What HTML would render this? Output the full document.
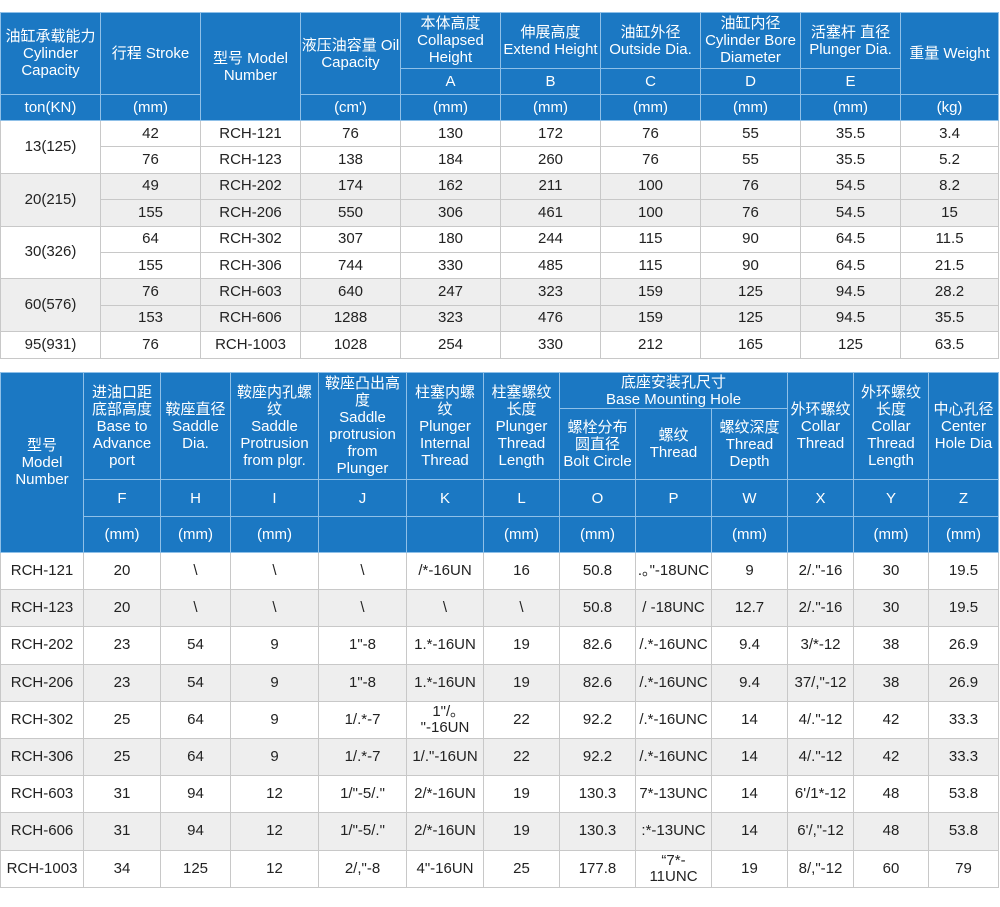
<!DOCTYPE html>
<html><head><meta charset="utf-8"><style>
body{margin:0;background:#fff;width:1000px;height:907px;position:relative;overflow:hidden;font-family:"Liberation Sans","Noto Sans CJK SC",sans-serif;}
table{position:absolute;left:0;border-collapse:collapse;table-layout:fixed;width:998px;}
td{text-align:center;vertical-align:middle;padding:0;font-size:15px;color:#222;border:1px solid #c8c8c8;line-height:16px;overflow:hidden;}
td.h{background:#1b78c3;color:#fff;border:1px solid #8fc0e8;font-size:15px;line-height:17px;}
tr.g td{background:#eeeeee;}
</style></head><body>
<table style="top:12px">
<colgroup><col style="width:100px"><col style="width:100px"><col style="width:100px"><col style="width:100px"><col style="width:100px"><col style="width:100px"><col style="width:100px"><col style="width:100px"><col style="width:100px"><col style="width:98px"></colgroup>
<tr style="height:56px"><td class="h" rowspan="2">油缸承载能力<br>Cylinder<br>Capacity</td><td class="h" rowspan="2">行程 Stroke</td><td class="h" rowspan="3">型号 Model<br>Number</td><td class="h" rowspan="2">液压油容量 Oil<br>Capacity</td><td class="h">本体高度<br>Collapsed<br>Height</td><td class="h">伸展高度<br>Extend Height</td><td class="h">油缸外径<br>Outside Dia.</td><td class="h">油缸内径<br>Cylinder Bore<br>Diameter</td><td class="h">活塞杆 直径<br>Plunger Dia.</td><td class="h" rowspan="2">重量 Weight</td></tr>
<tr style="height:26px"><td class="h">A</td><td class="h">B</td><td class="h">C</td><td class="h">D</td><td class="h">E</td></tr>
<tr style="height:26px"><td class="h">ton(KN)</td><td class="h">(mm)</td><td class="h">(cm')</td><td class="h">(mm)</td><td class="h">(mm)</td><td class="h">(mm)</td><td class="h">(mm)</td><td class="h">(mm)</td><td class="h">(kg)</td></tr>
<tr style="height:26.4px"><td rowspan="2">13(125)</td><td>42</td><td>RCH-121</td><td>76</td><td>130</td><td>172</td><td>76</td><td>55</td><td>35.5</td><td>3.4</td></tr>
<tr style="height:26.4px"><td>76</td><td>RCH-123</td><td>138</td><td>184</td><td>260</td><td>76</td><td>55</td><td>35.5</td><td>5.2</td></tr>
<tr class="g" style="height:26.4px"><td rowspan="2">20(215)</td><td>49</td><td>RCH-202</td><td>174</td><td>162</td><td>211</td><td>100</td><td>76</td><td>54.5</td><td>8.2</td></tr>
<tr class="g" style="height:26.4px"><td>155</td><td>RCH-206</td><td>550</td><td>306</td><td>461</td><td>100</td><td>76</td><td>54.5</td><td>15</td></tr>
<tr style="height:26.4px"><td rowspan="2">30(326)</td><td>64</td><td>RCH-302</td><td>307</td><td>180</td><td>244</td><td>115</td><td>90</td><td>64.5</td><td>11.5</td></tr>
<tr style="height:26.4px"><td>155</td><td>RCH-306</td><td>744</td><td>330</td><td>485</td><td>115</td><td>90</td><td>64.5</td><td>21.5</td></tr>
<tr class="g" style="height:26.4px"><td rowspan="2">60(576)</td><td>76</td><td>RCH-603</td><td>640</td><td>247</td><td>323</td><td>159</td><td>125</td><td>94.5</td><td>28.2</td></tr>
<tr class="g" style="height:26.4px"><td>153</td><td>RCH-606</td><td>1288</td><td>323</td><td>476</td><td>159</td><td>125</td><td>94.5</td><td>35.5</td></tr>
<tr style="height:26.4px"><td>95(931)</td><td>76</td><td>RCH-1003</td><td>1028</td><td>254</td><td>330</td><td>212</td><td>165</td><td>125</td><td>63.5</td></tr>
</table>

<table style="top:372px">
<colgroup><col style="width:83px"><col style="width:77px"><col style="width:70px"><col style="width:88px"><col style="width:88px"><col style="width:77px"><col style="width:76px"><col style="width:76px"><col style="width:76px"><col style="width:76px"><col style="width:66px"><col style="width:75px"><col style="width:70px"></colgroup>
<tr style="height:36px"><td class="h" rowspan="4">型号<br>Model<br>Number</td><td class="h" rowspan="2">进油口距<br>底部高度<br>Base to<br>Advance<br>port</td><td class="h" rowspan="2">鞍座直径<br>Saddle<br>Dia.</td><td class="h" rowspan="2">鞍座内孔螺<br>纹<br>Saddle<br>Protrusion<br>from plgr.</td><td class="h" rowspan="2">鞍座凸出高<br>度<br>Saddle<br>protrusion<br>from<br>Plunger</td><td class="h" rowspan="2">柱塞内螺<br>纹<br>Plunger<br>Internal<br>Thread</td><td class="h" rowspan="2">柱塞螺纹<br>长度<br>Plunger<br>Thread<br>Length</td><td class="h" colspan="3">底座安装孔尺寸<br>Base Mounting Hole</td><td class="h" rowspan="2">外环螺纹<br>Collar<br>Thread</td><td class="h" rowspan="2">外环螺纹<br>长度<br>Collar<br>Thread<br>Length</td><td class="h" rowspan="2">中心孔径<br>Center<br>Hole Dia</td></tr>
<tr style="height:71px"><td class="h">螺栓分布<br>圆直径<br>Bolt Circle</td><td class="h">螺纹<br>Thread</td><td class="h">螺纹深度<br>Thread<br>Depth</td></tr>
<tr style="height:37px"><td class="h">F</td><td class="h">H</td><td class="h">I</td><td class="h">J</td><td class="h">K</td><td class="h">L</td><td class="h">O</td><td class="h">P</td><td class="h">W</td><td class="h">X</td><td class="h">Y</td><td class="h">Z</td></tr>
<tr style="height:36px"><td class="h">(mm)</td><td class="h">(mm)</td><td class="h">(mm)</td><td class="h"></td><td class="h"></td><td class="h">(mm)</td><td class="h">(mm)</td><td class="h"></td><td class="h">(mm)</td><td class="h"></td><td class="h">(mm)</td><td class="h">(mm)</td></tr>
<tr style="height:37.2px"><td>RCH-121</td><td>20</td><td>\</td><td>\</td><td>\</td><td>/*-16UN</td><td>16</td><td>50.8</td><td>.｡"-18UNC</td><td>9</td><td>2/."-16</td><td>30</td><td>19.5</td></tr>
<tr class="g" style="height:37.2px"><td>RCH-123</td><td>20</td><td>\</td><td>\</td><td>\</td><td>\</td><td>\</td><td>50.8</td><td>/ -18UNC</td><td>12.7</td><td>2/."-16</td><td>30</td><td>19.5</td></tr>
<tr style="height:37.2px"><td>RCH-202</td><td>23</td><td>54</td><td>9</td><td>1"-8</td><td>1.*-16UN</td><td>19</td><td>82.6</td><td>/.*-16UNC</td><td>9.4</td><td>3/*-12</td><td>38</td><td>26.9</td></tr>
<tr class="g" style="height:37.2px"><td>RCH-206</td><td>23</td><td>54</td><td>9</td><td>1"-8</td><td>1.*-16UN</td><td>19</td><td>82.6</td><td>/.*-16UNC</td><td>9.4</td><td>37/,"-12</td><td>38</td><td>26.9</td></tr>
<tr style="height:37.2px"><td>RCH-302</td><td>25</td><td>64</td><td>9</td><td>1/.*-7</td><td>1"/｡<br>"-16UN</td><td>22</td><td>92.2</td><td>/.*-16UNC</td><td>14</td><td>4/."-12</td><td>42</td><td>33.3</td></tr>
<tr class="g" style="height:37.2px"><td>RCH-306</td><td>25</td><td>64</td><td>9</td><td>1/.*-7</td><td>1/."-16UN</td><td>22</td><td>92.2</td><td>/.*-16UNC</td><td>14</td><td>4/."-12</td><td>42</td><td>33.3</td></tr>
<tr style="height:37.2px"><td>RCH-603</td><td>31</td><td>94</td><td>12</td><td>1/"-5/."</td><td>2/*-16UN</td><td>19</td><td>130.3</td><td>7*-13UNC</td><td>14</td><td>6'/1*-12</td><td>48</td><td>53.8</td></tr>
<tr class="g" style="height:37.2px"><td>RCH-606</td><td>31</td><td>94</td><td>12</td><td>1/"-5/."</td><td>2/*-16UN</td><td>19</td><td>130.3</td><td>:*-13UNC</td><td>14</td><td>6'/,"-12</td><td>48</td><td>53.8</td></tr>
<tr style="height:37.2px"><td>RCH-1003</td><td>34</td><td>125</td><td>12</td><td>2/,"-8</td><td>4"-16UN</td><td>25</td><td>177.8</td><td>“7*-<br>11UNC</td><td>19</td><td>8/,"-12</td><td>60</td><td>79</td></tr>
</table>
</body></html>
